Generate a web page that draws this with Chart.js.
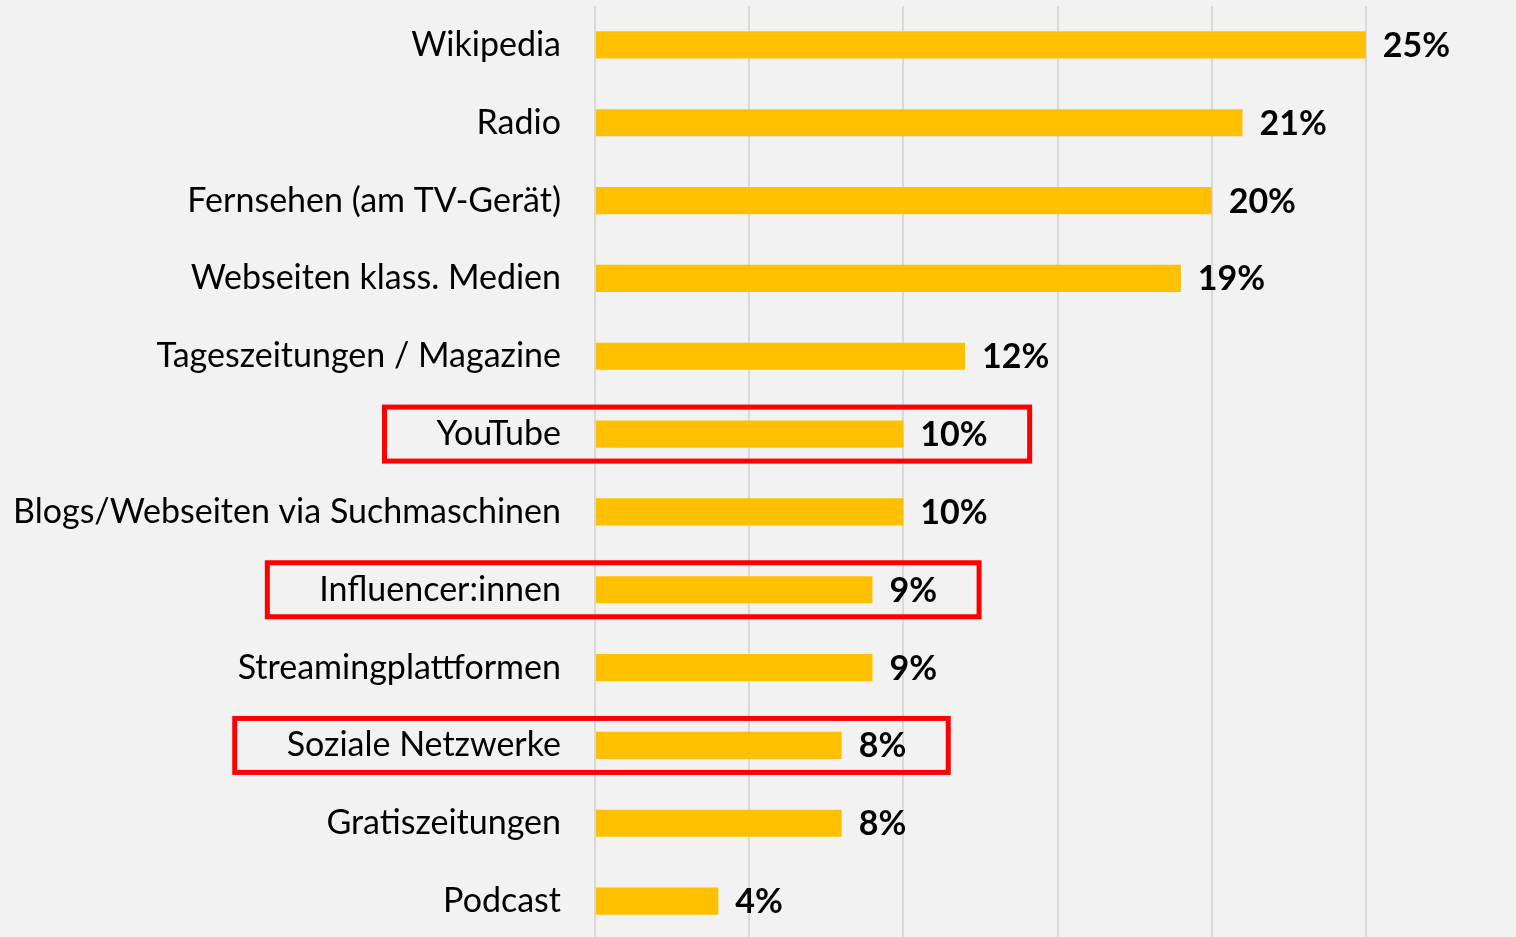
<!DOCTYPE html>
<html>
<head>
<meta charset="utf-8">
<script src="https://cdn.jsdelivr.net/npm/chart.js@4/dist/chart.umd.min.js"></script>
<style>
  html, body { margin: 0; padding: 0; background: #f2f2f2; overflow: hidden; }
  #wrap { width: 1520px; height: 940px; }
</style>
</head>
<body>
<div id="wrap"><canvas id="c" width="1520" height="940"></canvas></div>
<script>
const categories = [
  "Wikipedia",
  "Radio",
  "Fernsehen (am TV-Gerät)",
  "Webseiten klass. Medien",
  "Tageszeitungen / Magazine",
  "YouTube",
  "Blogs/Webseiten via Suchmaschinen",
  "Influencer:innen",
  "Streamingplattformen",
  "Soziale Netzwerke",
  "Gratiszeitungen",
  "Podcast"
];
const values = [25, 21, 20, 19, 12, 10, 10, 9, 9, 8, 8, 4];
const highlighted = ["YouTube", "Influencer:innen", "Soziale Netzwerke"];
const xTicks = [0, 5, 10, 15, 20, 25, 30];

const FONT = "Lato";
const LABEL_SIZE = 34;

const valueLabels = {
  id: 'valueLabels',
  afterDatasetsDraw(chart) {
    const ctx = chart.ctx;
    const meta = chart.getDatasetMeta(0);
    ctx.save();
    ctx.font = `bold ${LABEL_SIZE}px ${FONT}`;
    ctx.fillStyle = '#000';
    ctx.textBaseline = 'middle';
    ctx.textAlign = 'left';
    meta.data.forEach((bar, i) => {
      ctx.fillText(values[i] + '%', bar.x + 17, bar.y + 1);
    });
    ctx.restore();
  }
};

const highlightBoxes = {
  id: 'highlightBoxes',
  afterDraw(chart) {
    const ctx = chart.ctx;
    const meta = chart.getDatasetMeta(0);
    const yScale = chart.scales.y;
    ctx.save();
    ctx.strokeStyle = '#ff0000';
    ctx.lineWidth = 5;
    categories.forEach((cat, i) => {
      if (!highlighted.includes(cat)) return;
      const bar = meta.data[i];
      ctx.font = `${LABEL_SIZE}px ${FONT}`;
      const lw = ctx.measureText(cat).width;
      ctx.font = `bold ${LABEL_SIZE}px ${FONT}`;
      const vw = ctx.measureText(values[i] + '%').width;
      const labelRight = yScale.right - 34;
      const left = labelRight - lw - 52;
      const right = bar.x + 17 + vw + 42;
      const top = bar.y - 27;
      const bottom = bar.y + 27;
      ctx.strokeRect(left, top, right - left, bottom - top);
    });
    ctx.restore();
  }
};

new Chart(document.getElementById('c'), {
  type: 'bar',
  data: {
    labels: categories,
    datasets: [{
      data: values,
      backgroundColor: '#ffc000',
      borderWidth: 0,
      barPercentage: 0.35,
      categoryPercentage: 1.0
    }]
  },
  options: {
    indexAxis: 'y',
    responsive: false,
    animation: false,
    layout: { autoPadding: false, padding: { top: 6, right: 0, bottom: 0, left: 0 } },
    plugins: { legend: { display: false }, tooltip: { enabled: false } },
    scales: {
      x: {
        min: 0, max: 30,
        afterBuildTicks(axis) { axis.ticks = xTicks.map(v => ({ value: v })); },
        afterFit(axis) { axis.height = 0; axis.paddingLeft = 0; axis.paddingRight = 0; },
        ticks: { display: false },
        grid: { color: '#d9d9d9', lineWidth: 2, drawTicks: false },
        border: { display: false }
      },
      y: {
        afterFit(axis) { axis.width = 595; axis.paddingTop = 0; axis.paddingBottom = 0; },
        ticks: {
          color: '#000',
          padding: 34,
          font: { family: FONT, size: LABEL_SIZE }
        },
        grid: { display: false, drawTicks: false },
        border: { display: false }
      }
    }
  },
  plugins: [valueLabels, highlightBoxes]
});
</script>
</body>
</html>
